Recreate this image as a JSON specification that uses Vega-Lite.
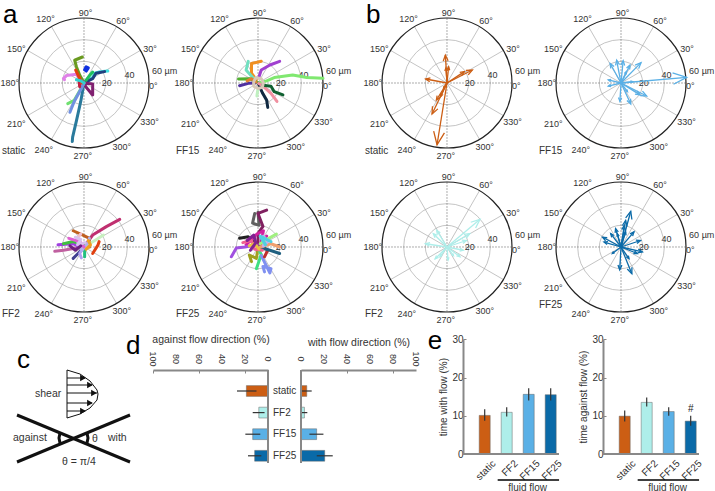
{
"$schema":"https://vega.github.io/schema/vega-lite/v6.json",
"padding":0,"spacing":0,
"resolve":{"scale":{"color":"independent","size":"independent"}},
"config":{"view":{"stroke":null},"font":"Liberation Sans"},
"datasets":{
"rings":[{"r":20,"x":0,"y":0},{"r":40,"x":0,"y":0}],
"outer":[{"r":60,"x":0,"y":0}],
"spokes":[{"x":51.96,"y":30},{"x":30,"y":51.96},{"x":-30,"y":51.96},{"x":-51.96,"y":30},{"x":-51.96,"y":-30},{"x":-30,"y":-51.96},{"x":30,"y":-51.96},{"x":51.96,"y":-30}],
"axes":[{"x":60,"y":0},{"x":0,"y":60},{"x":-60,"y":0},{"x":0,"y":-60}],
"labels":[{"label":"90°","x":1.5,"y":65},{"label":"60°","x":36,"y":57},{"label":"30°","x":61,"y":31},{"label":"0°","x":64,"y":-3},{"label":"330°","x":60.6,"y":-36},{"label":"300°","x":35,"y":-59},{"label":"270°","x":-1,"y":-67},{"label":"240°","x":-37,"y":-61.5},{"label":"210°","x":-62.5,"y":-38},{"label":"180°","x":-68.5,"y":0},{"label":"150°","x":-62.5,"y":31},{"label":"120°","x":-35.4,"y":59},{"label":"20","x":21,"y":0},{"label":"40","x":42,"y":7.4},{"label":"60 µm","x":74.5,"y":11.4}],
"ticks":[{"tick":0,"row":31},{"tick":20,"row":31},{"tick":40,"row":31},{"tick":60,"row":31},{"tick":80,"row":31},{"tick":100,"row":31}],
"ta1":[
{"t":1,"x":0,"y":0},{"t":1,"x":-3,"y":-17},{"t":1,"x":-7,"y":-35},{"t":1,"x":-10.5,"y":-50},{"t":1,"x":-10.8,"y":-54},
{"t":2,"x":-1.5,"y":24},{"t":2,"x":-8.6,"y":21},{"t":2,"x":-7,"y":15},{"t":2,"x":-4,"y":7.4},{"t":2,"x":0,"y":0},
{"t":3,"x":0.6,"y":12},{"t":3,"x":2,"y":15},{"t":3,"x":4,"y":14},{"t":3,"x":2,"y":11},{"t":3,"x":0.6,"y":12.5},
{"t":4,"x":22,"y":11},{"t":4,"x":15,"y":10.5},{"t":4,"x":10,"y":9},{"t":4,"x":8,"y":5},{"t":4,"x":0,"y":0},
{"t":5,"x":19,"y":10.5},{"t":5,"x":11,"y":9},{"t":5,"x":8,"y":4},{"t":5,"x":0,"y":0},
{"t":6,"x":8,"y":10},{"t":6,"x":6,"y":8},{"t":6,"x":3,"y":4},{"t":6,"x":0,"y":0},
{"t":7,"x":-18,"y":3},{"t":7,"x":-19,"y":4},{"t":7,"x":-16,"y":7},{"t":7,"x":-7,"y":8},{"t":7,"x":-4,"y":3},{"t":7,"x":0,"y":0},
{"t":8,"x":0,"y":0},{"t":8,"x":2,"y":-4},{"t":8,"x":8,"y":-11},{"t":8,"x":8,"y":-1},{"t":8,"x":0,"y":0},
{"t":9,"x":-15,"y":-19},{"t":9,"x":-9,"y":-16},{"t":9,"x":-1,"y":-2},{"t":9,"x":0,"y":0},
{"t":10,"x":-13,"y":-27},{"t":10,"x":-9,"y":-17},{"t":10,"x":-2.5,"y":-5},{"t":10,"x":0,"y":0},
{"t":11,"x":-4,"y":-3.4},{"t":11,"x":-4.6,"y":3},{"t":11,"x":-1,"y":1},
{"t":12,"x":-7.7,"y":12},{"t":12,"x":-2,"y":0},
{"t":13,"x":-7,"y":3},{"t":13,"x":-3,"y":2},{"t":13,"x":0,"y":0}],
"ta2":[
{"t":1,"x":60,"y":4.3},{"t":1,"x":45,"y":5},{"t":1,"x":32,"y":7.4},{"t":1,"x":15,"y":5},{"t":1,"x":8,"y":2},{"t":1,"x":0,"y":0},
{"t":2,"x":9,"y":-22.5},{"t":2,"x":8,"y":-16},{"t":2,"x":4,"y":-9},{"t":2,"x":0,"y":0},
{"t":3,"x":17.5,"y":-17},{"t":3,"x":12,"y":-9.5},{"t":3,"x":4.6,"y":-2.8},{"t":3,"x":0,"y":0},
{"t":4,"x":23,"y":-11},{"t":4,"x":15,"y":-8},{"t":4,"x":12,"y":-3},{"t":4,"x":4.6,"y":-2},
{"t":5,"x":20,"y":20},{"t":5,"x":11,"y":16.6},{"t":5,"x":3,"y":12},{"t":5,"x":1,"y":6},
{"t":6,"x":3,"y":20},{"t":6,"x":-6,"y":18},{"t":6,"x":-6,"y":9},{"t":6,"x":-1.5,"y":3},
{"t":7,"x":-9,"y":20},{"t":7,"x":-11,"y":12},{"t":7,"x":-3,"y":3},
{"t":8,"x":-18,"y":3.7},{"t":8,"x":-8,"y":4},{"t":8,"x":-1.5,"y":1},
{"t":9,"x":-17,"y":-2.5},{"t":9,"x":-9,"y":-0.3},{"t":9,"x":-3,"y":0},
{"t":10,"x":-10,"y":2},{"t":10,"x":-6,"y":4},{"t":10,"x":-2,"y":1},
{"t":11,"x":-1,"y":-12},{"t":11,"x":0,"y":-5},
{"t":12,"x":5,"y":0},{"t":12,"x":3,"y":4},{"t":12,"x":-2,"y":5},{"t":12,"x":-4,"y":1},{"t":12,"x":-4,"y":-3},{"t":12,"x":0,"y":-5},{"t":12,"x":4,"y":-4},{"t":12,"x":5,"y":0}],
"ta3":[
{"t":1,"x":33,"y":25.5},{"t":1,"x":20.6,"y":18.8},{"t":1,"x":8,"y":11},{"t":1,"x":0,"y":0},
{"t":2,"x":-10,"y":15},{"t":2,"x":-1,"y":11},{"t":2,"x":5,"y":8},{"t":2,"x":5,"y":0},
{"t":3,"x":18,"y":11},{"t":3,"x":10,"y":6},{"t":3,"x":0,"y":0},
{"t":4,"x":-27,"y":-4},{"t":4,"x":-19,"y":-3},{"t":4,"x":-7,"y":-1},{"t":4,"x":0,"y":0},
{"t":5,"x":-24,"y":2},{"t":5,"x":-10,"y":3},{"t":5,"x":-4,"y":0},
{"t":6,"x":-10,"y":-10.5},{"t":6,"x":-5.5,"y":-6},{"t":6,"x":-2.5,"y":-3},{"t":6,"x":0,"y":0},
{"t":7,"x":-2.5,"y":-10},{"t":7,"x":-4,"y":-6},{"t":7,"x":0,"y":0},
{"t":8,"x":0.6,"y":-9},{"t":8,"x":0.6,"y":-3},
{"t":9,"x":8,"y":-6},{"t":9,"x":13,"y":2},{"t":9,"x":14,"y":5},
{"t":10,"x":-19,"y":3},{"t":10,"x":-10,"y":5},{"t":10,"x":0,"y":2},
{"t":11,"x":-3,"y":12},{"t":11,"x":-7,"y":7},{"t":11,"x":-2,"y":3},
{"t":12,"x":-6,"y":5},{"t":12,"x":-2,"y":-3},{"t":12,"x":3,"y":3},{"t":12,"x":5,"y":8},
{"t":13,"x":-14,"y":8},{"t":13,"x":-4,"y":5},{"t":13,"x":0,"y":0},
{"t":14,"x":4,"y":6},{"t":14,"x":6,"y":2},{"t":14,"x":2,"y":-2},
{"t":15,"x":-8,"y":9},{"t":15,"x":-3,"y":7},{"t":15,"x":-6,"y":2},{"t":15,"x":1,"y":4},
{"t":16,"x":-13,"y":1},{"t":16,"x":-8,"y":-3},{"t":16,"x":-3,"y":1}],
"ta4":[
{"t":1,"x":-3,"y":31},{"t":1,"x":-5,"y":22},{"t":1,"x":1,"y":20},{"t":1,"x":0,"y":32},
{"t":2,"x":8,"y":34},{"t":2,"x":0,"y":31},{"t":2,"x":4.6,"y":19},{"t":2,"x":0,"y":12.6},{"t":2,"x":0,"y":0},
{"t":3,"x":-17,"y":8},{"t":3,"x":-9,"y":9.5},{"t":3,"x":0,"y":0},
{"t":4,"x":-11,"y":2},{"t":4,"x":-1,"y":12},{"t":4,"x":5,"y":15},{"t":4,"x":3,"y":5},{"t":4,"x":8,"y":10},{"t":4,"x":0,"y":0},
{"t":5,"x":-24.6,"y":-9},{"t":5,"x":-20,"y":-1},{"t":5,"x":-12,"y":0},{"t":5,"x":-1.5,"y":2},
{"t":6,"x":-6,"y":-13.5},{"t":6,"x":-8,"y":-7.4},{"t":6,"x":-1.5,"y":-10.5},{"t":6,"x":0,"y":-1},
{"t":7,"x":-1.5,"y":-20},{"t":7,"x":3,"y":-7},{"t":7,"x":0,"y":-1.2},
{"t":8,"x":6,"y":-23},{"t":8,"x":4.6,"y":-18},{"t":8,"x":12,"y":-20},{"t":8,"x":11,"y":-24},{"t":8,"x":3,"y":-8},
{"t":9,"x":6,"y":-9},{"t":9,"x":9,"y":-3},{"t":9,"x":3,"y":1},
{"t":10,"x":20,"y":-6},{"t":10,"x":11,"y":-3},{"t":10,"x":1,"y":0},
{"t":11,"x":17,"y":12},{"t":11,"x":10,"y":8},{"t":11,"x":2,"y":3},
{"t":12,"x":20,"y":0},{"t":12,"x":12,"y":3},{"t":12,"x":2,"y":0},
{"t":13,"x":-14,"y":4},{"t":13,"x":-6,"y":6},{"t":13,"x":-3,"y":-2},{"t":13,"x":4,"y":-3},
{"t":14,"x":-8,"y":1},{"t":14,"x":-3,"y":3},{"t":14,"x":1,"y":-2},
{"t":15,"x":5,"y":10},{"t":15,"x":9,"y":5},{"t":15,"x":5,"y":1},
{"t":16,"x":-10,"y":6},{"t":16,"x":-4,"y":11},{"t":16,"x":-2,"y":4},{"t":16,"x":-7,"y":-3},
{"t":17,"x":12,"y":5},{"t":17,"x":6,"y":8},{"t":17,"x":2,"y":10},{"t":17,"x":7,"y":2}],
"b1":[{"x":-9.2,"y":-57,"len":57.7,"rot":189},{"x":-13.8,"y":-28.6,"len":31.8,"rot":206},{"x":-9.8,"y":-15.7,"len":18.5,"rot":212},{"x":-6,"y":-12.6,"len":14,"rot":205.5},{"x":23.4,"y":12,"len":26.3,"rot":62.9},{"x":16,"y":10.5,"len":19.1,"rot":56.7},{"x":-1.5,"y":25.8,"len":25.8,"rot":-3.3},{"x":1.5,"y":15,"len":15,"rot":5.7},{"x":-19.7,"y":3.7,"len":20,"rot":-79.4},{"x":-1,"y":14,"len":14,"rot":-4},{"x":-3,"y":-4,"len":5,"rot":217}],
"b2":[{"x":60.6,"y":5.2,"len":60.8,"rot":85},{"x":23.7,"y":-12,"len":26.6,"rot":116.9},{"x":17.5,"y":-11,"len":20.7,"rot":122},{"x":9,"y":-19.4,"len":21.4,"rot":155},{"x":-1,"y":-17,"len":17,"rot":183},{"x":18.5,"y":18.8,"len":26.4,"rot":44.5},{"x":8.3,"y":16.6,"len":18.6,"rot":26.6},{"x":2,"y":20.6,"len":20.7,"rot":5.5},{"x":-4,"y":21,"len":21.4,"rot":-10.8},{"x":-10,"y":18,"len":20.6,"rot":-29},{"x":-11.7,"y":2.8,"len":12,"rot":-76.5},{"x":-11.7,"y":-2.8,"len":12,"rot":-103.5},{"x":11,"y":1.2,"len":11,"rot":83.8},{"x":5,"y":10.5,"len":11.6,"rot":25.5},{"x":6,"y":-8,"len":10,"rot":143}],
"b3":[{"x":30.5,"y":25.5,"len":39.8,"rot":50},{"x":21,"y":12.3,"len":24.3,"rot":59.6},{"x":18,"y":6,"len":19,"rot":71.6},{"x":15,"y":-3,"len":15.3,"rot":101},{"x":12,"y":-9,"len":15,"rot":127},{"x":-9.5,"y":15.4,"len":18,"rot":-31.7},{"x":-12.6,"y":12.3,"len":17.6,"rot":-45.7},{"x":-20,"y":3,"len":20,"rot":-81.5},{"x":-11,"y":-11,"len":15.6,"rot":225},{"x":-6.5,"y":-9,"len":11,"rot":216},{"x":1,"y":-12,"len":12,"rot":175},{"x":6,"y":-8,"len":10,"rot":143}],
"b4":[{"x":9,"y":33,"len":34,"rot":15},{"x":4.3,"y":24.6,"len":25,"rot":10},{"x":12,"y":14,"len":18.4,"rot":40.6},{"x":18,"y":6,"len":19,"rot":71.6},{"x":19.7,"y":-4.6,"len":20.2,"rot":103},{"x":15,"y":-6,"len":16,"rot":112},{"x":10,"y":-24.6,"len":26.6,"rot":158},{"x":-1.2,"y":-21,"len":21,"rot":183},{"x":-17,"y":9,"len":19.2,"rot":-62},{"x":-15.7,"y":4.6,"len":16.4,"rot":-73.7},{"x":-5,"y":17,"len":17.7,"rot":-16.4},{"x":-9.5,"y":12.3,"len":15.5,"rot":-37.7},{"x":4.3,"y":14,"len":14.6,"rot":17},{"x":-3.4,"y":12.3,"len":12.8,"rot":-15.5},{"x":7.4,"y":-10.8,"len":13,"rot":145.6},{"x":-8,"y":-6,"len":10,"rot":233},{"x":3,"y":20,"len":20.2,"rot":8.5}],
"dleft":[{"cat":"static","v":18.8,"lo":10,"hi":27},{"cat":"FF2","v":8,"lo":3,"hi":13.3},{"cat":"FF15","v":13.3,"lo":6.7,"hi":19.7},{"cat":"FF25","v":11.6,"lo":5.8,"hi":17.4}],
"dright":[{"cat":"static","v":5,"lo":0,"hi":9.3},{"cat":"FF2","v":3,"lo":0,"hi":5.5},{"cat":"FF15","v":13.6,"lo":7.3,"hi":19.5},{"cat":"FF25","v":20.6,"lo":13.7,"hi":27.6}],
"zero":[{"top":42,"bottom":135,"z":0}],
"e1":[{"cat":"static","v":10.1,"lo":8.7,"hi":11.7},{"cat":"FF2","v":10.9,"lo":9.8,"hi":12.2},{"cat":"FF15","v":15.6,"lo":14,"hi":17.2},{"cat":"FF25","v":15.5,"lo":14,"hi":17.2}],
"e2":[{"cat":"static","v":9.9,"lo":8.5,"hi":11.4},{"cat":"FF2","v":13.5,"lo":12.4,"hi":14.8},{"cat":"FF15","v":11.1,"lo":10,"hi":12.2},{"cat":"FF25","v":8.6,"lo":7.4,"hi":10}],
"flow":[{"start":1.09,"end":3.88,"v":-6.8}],
"flowtext":[{"label":"fluid flow","pos":2.45,"v":-8.8}]
},
"vconcat":[
{"spacing":0,"bounds":"flush","resolve":{"scale":{"color":"independent","size":"independent"}},"hconcat":[
{"width":171,"height":165,
"encoding":{"x":{"field":"x","type":"quantitative","axis":null,"scale":{"domain":[-77.54,80.31],"nice":false,"zero":false}},"y":{"field":"y","type":"quantitative","axis":null,"scale":{"domain":[-75.69,76.62],"nice":false,"zero":false}}},
"layer":[
{"data":{"name":"rings"},"mark":{"type":"point","filled":false,"opacity":1,"stroke":"#aaa","strokeWidth":0.7},"encoding":{"size":{"field":"r","type":"quantitative","legend":null,"scale":{"type":"pow","exponent":2,"domain":[0,60],"range":[0,16900]}}}},
{"data":{"name":"spokes"},"mark":{"type":"rule","stroke":"#aaa","strokeWidth":0.7},"encoding":{"x2":{"datum":0},"y2":{"datum":0}}},
{"data":{"name":"axes"},"mark":{"type":"rule","stroke":"#888","strokeWidth":0.7,"strokeDash":[2,1]},"encoding":{"x2":{"datum":0},"y2":{"datum":0}}},
{"data":{"name":"outer"},"mark":{"type":"point","filled":false,"opacity":1,"stroke":"#222","strokeWidth":1.2},"encoding":{"size":{"field":"r","type":"quantitative","legend":null,"scale":{"type":"pow","exponent":2,"domain":[0,60],"range":[0,16900]}}}},
{"data":{"name":"labels"},"mark":{"type":"text","fontSize":9,"color":"#333"},"encoding":{"text":{"field":"label"}}},
{"data":{"values":[{"label":"static","x":-75.7,"y":-62.8}]},"mark":{"type":"text","fontSize":10,"color":"#333","align":"left"},"encoding":{"text":{"field":"label"}}},
{"data":{"values":[{"label":"a","x":-74.8,"y":55.4}]},"mark":{"type":"text","fontSize":26,"color":"#000","align":"left","baseline":"alphabetic"},"encoding":{"text":{"field":"label"}}},
{"data":{"name":"ta1"},"mark":{"type":"line","strokeWidth":3,"strokeCap":"round","strokeJoin":"round"},"encoding":{"order":{"value":null},"color":{"field":"t","type":"nominal","legend":null,"scale":{"domain":[1,2,3,4,5,6,7,8,9,10,11,12,13],"range":["#2a7a9c","#6a9a20","#1030e0","#40e0e0","#204080","#20c060","#e080e8","#802070","#70e070","#7090e0","#c02040","#e04010","#30d0d0"]}}}}
]},
{"width":174,"height":165,
"encoding":{"x":{"field":"x","type":"quantitative","axis":null,"scale":{"domain":[-80.31,80.31],"nice":false,"zero":false}},"y":{"field":"y","type":"quantitative","axis":null,"scale":{"domain":[-75.69,76.62],"nice":false,"zero":false}}},
"layer":[
{"data":{"name":"rings"},"mark":{"type":"point","filled":false,"opacity":1,"stroke":"#aaa","strokeWidth":0.7},"encoding":{"size":{"field":"r","type":"quantitative","legend":null,"scale":{"type":"pow","exponent":2,"domain":[0,60],"range":[0,16900]}}}},
{"data":{"name":"spokes"},"mark":{"type":"rule","stroke":"#aaa","strokeWidth":0.7},"encoding":{"x2":{"datum":0},"y2":{"datum":0}}},
{"data":{"name":"axes"},"mark":{"type":"rule","stroke":"#888","strokeWidth":0.7,"strokeDash":[2,1]},"encoding":{"x2":{"datum":0},"y2":{"datum":0}}},
{"data":{"name":"outer"},"mark":{"type":"point","filled":false,"opacity":1,"stroke":"#222","strokeWidth":1.2},"encoding":{"size":{"field":"r","type":"quantitative","legend":null,"scale":{"type":"pow","exponent":2,"domain":[0,60],"range":[0,16900]}}}},
{"data":{"name":"labels"},"mark":{"type":"text","fontSize":9,"color":"#333"},"encoding":{"text":{"field":"label"}}},
{"data":{"values":[{"label":"FF15","x":-75.7,"y":-62.8}]},"mark":{"type":"text","fontSize":10,"color":"#333","align":"left"},"encoding":{"text":{"field":"label"}}},
{"data":{"name":"ta2"},"mark":{"type":"line","strokeWidth":3,"strokeCap":"round","strokeJoin":"round"},"encoding":{"order":{"value":null},"color":{"field":"t","type":"nominal","legend":null,"scale":{"domain":[1,2,3,4,5,6,7,8,9,10,11,12],"range":["#80e870","#102840","#f090a0","#106030","#a040d0","#f09020","#70e0c0","#50b030","#5030a0","#e08030","#c0f0c0","#d8c8b8"]}}}}
]},
{"width":189,"height":165,"resolve":{"scale":{"size":"independent"}},
"encoding":{"x":{"field":"x","type":"quantitative","axis":null,"scale":{"domain":[-94.15,80.31],"nice":false,"zero":false}},"y":{"field":"y","type":"quantitative","axis":null,"scale":{"domain":[-75.69,76.62],"nice":false,"zero":false}}},
"layer":[
{"data":{"name":"rings"},"mark":{"type":"point","filled":false,"opacity":1,"stroke":"#aaa","strokeWidth":0.7},"encoding":{"size":{"field":"r","type":"quantitative","legend":null,"scale":{"type":"pow","exponent":2,"domain":[0,60],"range":[0,16900]}}}},
{"data":{"name":"spokes"},"mark":{"type":"rule","stroke":"#aaa","strokeWidth":0.7},"encoding":{"x2":{"datum":0},"y2":{"datum":0}}},
{"data":{"name":"axes"},"mark":{"type":"rule","stroke":"#888","strokeWidth":0.7,"strokeDash":[2,1]},"encoding":{"x2":{"datum":0},"y2":{"datum":0}}},
{"data":{"name":"outer"},"mark":{"type":"point","filled":false,"opacity":1,"stroke":"#222","strokeWidth":1.2},"encoding":{"size":{"field":"r","type":"quantitative","legend":null,"scale":{"type":"pow","exponent":2,"domain":[0,60],"range":[0,16900]}}}},
{"data":{"name":"labels"},"mark":{"type":"text","fontSize":9,"color":"#333"},"encoding":{"text":{"field":"label"}}},
{"data":{"values":[{"label":"static","x":-75.7,"y":-62.8}]},"mark":{"type":"text","fontSize":10,"color":"#333","align":"left"},"encoding":{"text":{"field":"label"}}},
{"data":{"values":[{"label":"b","x":-74.8,"y":55.4}]},"mark":{"type":"text","fontSize":26,"color":"#000","align":"left","baseline":"alphabetic"},"encoding":{"text":{"field":"label"}}},
{"data":{"name":"b1"},"mark":{"type":"rule","stroke":"#cc5e14","strokeWidth":1.3},"encoding":{"x2":{"datum":0},"y2":{"datum":0}}},
{"data":{"name":"b1"},"mark":{"type":"point","filled":false,"opacity":1,"stroke":"#cc5e14","strokeWidth":1.3,"shape":"M-0.42,1L0,0L0.42,1"},"encoding":{"angle":{"field":"rot","type":"quantitative","scale":null},"size":{"field":"len","type":"quantitative","legend":null,"scale":{"type":"pow","exponent":2,"domain":[0,60],"range":[0,729]}}}}
]},
{"width":181,"height":165,"resolve":{"scale":{"size":"independent"}},
"encoding":{"x":{"field":"x","type":"quantitative","axis":null,"scale":{"domain":[-80.31,86.77],"nice":false,"zero":false}},"y":{"field":"y","type":"quantitative","axis":null,"scale":{"domain":[-75.69,76.62],"nice":false,"zero":false}}},
"layer":[
{"data":{"name":"rings"},"mark":{"type":"point","filled":false,"opacity":1,"stroke":"#aaa","strokeWidth":0.7},"encoding":{"size":{"field":"r","type":"quantitative","legend":null,"scale":{"type":"pow","exponent":2,"domain":[0,60],"range":[0,16900]}}}},
{"data":{"name":"spokes"},"mark":{"type":"rule","stroke":"#aaa","strokeWidth":0.7},"encoding":{"x2":{"datum":0},"y2":{"datum":0}}},
{"data":{"name":"axes"},"mark":{"type":"rule","stroke":"#888","strokeWidth":0.7,"strokeDash":[2,1]},"encoding":{"x2":{"datum":0},"y2":{"datum":0}}},
{"data":{"name":"outer"},"mark":{"type":"point","filled":false,"opacity":1,"stroke":"#222","strokeWidth":1.2},"encoding":{"size":{"field":"r","type":"quantitative","legend":null,"scale":{"type":"pow","exponent":2,"domain":[0,60],"range":[0,16900]}}}},
{"data":{"name":"labels"},"mark":{"type":"text","fontSize":9,"color":"#333"},"encoding":{"text":{"field":"label"}}},
{"data":{"values":[{"label":"FF15","x":-75.7,"y":-62.8}]},"mark":{"type":"text","fontSize":10,"color":"#333","align":"left"},"encoding":{"text":{"field":"label"}}},
{"data":{"name":"b2"},"mark":{"type":"rule","stroke":"#5ab0e6","strokeWidth":1.3},"encoding":{"x2":{"datum":0},"y2":{"datum":0}}},
{"data":{"name":"b2"},"mark":{"type":"point","filled":false,"opacity":1,"stroke":"#5ab0e6","strokeWidth":1.3,"shape":"M-0.42,1L0,0L0.42,1"},"encoding":{"angle":{"field":"rot","type":"quantitative","scale":null},"size":{"field":"len","type":"quantitative","legend":null,"scale":{"type":"pow","exponent":2,"domain":[0,60],"range":[0,729]}}}}
]}
]},
{"spacing":0,"bounds":"flush","resolve":{"scale":{"color":"independent","size":"independent"}},"hconcat":[
{"width":171,"height":160,
"encoding":{"x":{"field":"x","type":"quantitative","axis":null,"scale":{"domain":[-77.54,80.31],"nice":false,"zero":false}},"y":{"field":"y","type":"quantitative","axis":null,"scale":{"domain":[-72,75.69],"nice":false,"zero":false}}},
"layer":[
{"data":{"name":"rings"},"mark":{"type":"point","filled":false,"opacity":1,"stroke":"#aaa","strokeWidth":0.7},"encoding":{"size":{"field":"r","type":"quantitative","legend":null,"scale":{"type":"pow","exponent":2,"domain":[0,60],"range":[0,16900]}}}},
{"data":{"name":"spokes"},"mark":{"type":"rule","stroke":"#aaa","strokeWidth":0.7},"encoding":{"x2":{"datum":0},"y2":{"datum":0}}},
{"data":{"name":"axes"},"mark":{"type":"rule","stroke":"#888","strokeWidth":0.7,"strokeDash":[2,1]},"encoding":{"x2":{"datum":0},"y2":{"datum":0}}},
{"data":{"name":"outer"},"mark":{"type":"point","filled":false,"opacity":1,"stroke":"#222","strokeWidth":1.2},"encoding":{"size":{"field":"r","type":"quantitative","legend":null,"scale":{"type":"pow","exponent":2,"domain":[0,60],"range":[0,16900]}}}},
{"data":{"name":"labels"},"mark":{"type":"text","fontSize":9,"color":"#333"},"encoding":{"text":{"field":"label"}}},
{"data":{"values":[{"label":"FF2","x":-75.7,"y":-62}]},"mark":{"type":"text","fontSize":10,"color":"#333","align":"left"},"encoding":{"text":{"field":"label"}}},
{"data":{"name":"ta3"},"mark":{"type":"line","strokeWidth":3,"strokeCap":"round","strokeJoin":"round"},"encoding":{"order":{"value":null},"color":{"field":"t","type":"nominal","legend":null,"scale":{"domain":[1,2,3,4,5,6,7,8,9,10,11,12,13,14,15,16],"range":["#c03070","#c06020","#c8f0c0","#c060a0","#a040e0","#404090","#b0a0f0","#20c080","#e04010","#40c040","#f0c0d0","#b0b0f0","#e060d0","#f0a020","#d8c0f0","#702080"]}}}}
]},
{"width":174,"height":160,
"encoding":{"x":{"field":"x","type":"quantitative","axis":null,"scale":{"domain":[-80.31,80.31],"nice":false,"zero":false}},"y":{"field":"y","type":"quantitative","axis":null,"scale":{"domain":[-72,75.69],"nice":false,"zero":false}}},
"layer":[
{"data":{"name":"rings"},"mark":{"type":"point","filled":false,"opacity":1,"stroke":"#aaa","strokeWidth":0.7},"encoding":{"size":{"field":"r","type":"quantitative","legend":null,"scale":{"type":"pow","exponent":2,"domain":[0,60],"range":[0,16900]}}}},
{"data":{"name":"spokes"},"mark":{"type":"rule","stroke":"#aaa","strokeWidth":0.7},"encoding":{"x2":{"datum":0},"y2":{"datum":0}}},
{"data":{"name":"axes"},"mark":{"type":"rule","stroke":"#888","strokeWidth":0.7,"strokeDash":[2,1]},"encoding":{"x2":{"datum":0},"y2":{"datum":0}}},
{"data":{"name":"outer"},"mark":{"type":"point","filled":false,"opacity":1,"stroke":"#222","strokeWidth":1.2},"encoding":{"size":{"field":"r","type":"quantitative","legend":null,"scale":{"type":"pow","exponent":2,"domain":[0,60],"range":[0,16900]}}}},
{"data":{"name":"labels"},"mark":{"type":"text","fontSize":9,"color":"#333"},"encoding":{"text":{"field":"label"}}},
{"data":{"values":[{"label":"FF25","x":-75.7,"y":-62}]},"mark":{"type":"text","fontSize":10,"color":"#333","align":"left"},"encoding":{"text":{"field":"label"}}},
{"data":{"name":"ta4"},"mark":{"type":"line","strokeWidth":3,"strokeCap":"round","strokeJoin":"round"},"encoding":{"order":{"value":null},"color":{"field":"t","type":"nominal","legend":null,"scale":{"domain":[1,2,3,4,5,6,7,8,9,10,11,12,13,14,15,16,17],"range":["#606060","#802060","#202020","#d020a0","#a050e0","#a0a020","#40e080","#8090f0","#c03030","#206080","#a0f080","#f0a070","#f06090","#e8c040","#c0b0f0","#802090","#50d0e0"]}}}}
]},
{"width":189,"height":160,"resolve":{"scale":{"size":"independent"}},
"encoding":{"x":{"field":"x","type":"quantitative","axis":null,"scale":{"domain":[-94.15,80.31],"nice":false,"zero":false}},"y":{"field":"y","type":"quantitative","axis":null,"scale":{"domain":[-72,75.69],"nice":false,"zero":false}}},
"layer":[
{"data":{"name":"rings"},"mark":{"type":"point","filled":false,"opacity":1,"stroke":"#aaa","strokeWidth":0.7},"encoding":{"size":{"field":"r","type":"quantitative","legend":null,"scale":{"type":"pow","exponent":2,"domain":[0,60],"range":[0,16900]}}}},
{"data":{"name":"spokes"},"mark":{"type":"rule","stroke":"#aaa","strokeWidth":0.7},"encoding":{"x2":{"datum":0},"y2":{"datum":0}}},
{"data":{"name":"axes"},"mark":{"type":"rule","stroke":"#888","strokeWidth":0.7,"strokeDash":[2,1]},"encoding":{"x2":{"datum":0},"y2":{"datum":0}}},
{"data":{"name":"outer"},"mark":{"type":"point","filled":false,"opacity":1,"stroke":"#222","strokeWidth":1.2},"encoding":{"size":{"field":"r","type":"quantitative","legend":null,"scale":{"type":"pow","exponent":2,"domain":[0,60],"range":[0,16900]}}}},
{"data":{"name":"labels"},"mark":{"type":"text","fontSize":9,"color":"#333"},"encoding":{"text":{"field":"label"}}},
{"data":{"values":[{"label":"FF2","x":-75.7,"y":-62}]},"mark":{"type":"text","fontSize":10,"color":"#333","align":"left"},"encoding":{"text":{"field":"label"}}},
{"data":{"name":"b3"},"mark":{"type":"rule","stroke":"#aeeeea","strokeWidth":1.3},"encoding":{"x2":{"datum":0},"y2":{"datum":0}}},
{"data":{"name":"b3"},"mark":{"type":"point","filled":false,"opacity":1,"stroke":"#aeeeea","strokeWidth":1.3,"shape":"M-0.42,1L0,0L0.42,1"},"encoding":{"angle":{"field":"rot","type":"quantitative","scale":null},"size":{"field":"len","type":"quantitative","legend":null,"scale":{"type":"pow","exponent":2,"domain":[0,60],"range":[0,729]}}}}
]},
{"width":181,"height":160,"resolve":{"scale":{"size":"independent"}},
"encoding":{"x":{"field":"x","type":"quantitative","axis":null,"scale":{"domain":[-80.31,86.77],"nice":false,"zero":false}},"y":{"field":"y","type":"quantitative","axis":null,"scale":{"domain":[-72,75.69],"nice":false,"zero":false}}},
"layer":[
{"data":{"name":"rings"},"mark":{"type":"point","filled":false,"opacity":1,"stroke":"#aaa","strokeWidth":0.7},"encoding":{"size":{"field":"r","type":"quantitative","legend":null,"scale":{"type":"pow","exponent":2,"domain":[0,60],"range":[0,16900]}}}},
{"data":{"name":"spokes"},"mark":{"type":"rule","stroke":"#aaa","strokeWidth":0.7},"encoding":{"x2":{"datum":0},"y2":{"datum":0}}},
{"data":{"name":"axes"},"mark":{"type":"rule","stroke":"#888","strokeWidth":0.7,"strokeDash":[2,1]},"encoding":{"x2":{"datum":0},"y2":{"datum":0}}},
{"data":{"name":"outer"},"mark":{"type":"point","filled":false,"opacity":1,"stroke":"#222","strokeWidth":1.2},"encoding":{"size":{"field":"r","type":"quantitative","legend":null,"scale":{"type":"pow","exponent":2,"domain":[0,60],"range":[0,16900]}}}},
{"data":{"name":"labels"},"mark":{"type":"text","fontSize":9,"color":"#333"},"encoding":{"text":{"field":"label"}}},
{"data":{"values":[{"label":"FF25","x":-75.7,"y":-53.5}]},"mark":{"type":"text","fontSize":10,"color":"#333","align":"left"},"encoding":{"text":{"field":"label"}}},
{"data":{"name":"b4"},"mark":{"type":"rule","stroke":"#0a6aa8","strokeWidth":1.3},"encoding":{"x2":{"datum":0},"y2":{"datum":0}}},
{"data":{"name":"b4"},"mark":{"type":"point","filled":false,"opacity":1,"stroke":"#0a6aa8","strokeWidth":1.3,"shape":"M-0.42,1L0,0L0.42,1"},"encoding":{"angle":{"field":"rot","type":"quantitative","scale":null},"size":{"field":"len","type":"quantitative","legend":null,"scale":{"type":"pow","exponent":2,"domain":[0,60],"range":[0,729]}}}}
]}
]},
{"spacing":0,"bounds":"flush","resolve":{"scale":{"color":"independent","size":"independent"}},"hconcat":[
{"width":153,"height":163,
"encoding":{"x":{"field":"x","type":"quantitative","axis":null,"scale":{"domain":[0,153],"nice":false,"zero":false}},"y":{"field":"y","type":"quantitative","axis":null,"scale":{"domain":[163,0],"nice":false,"zero":false}}},
"layer":[
{"data":{"values":[{"s":"v","x":67,"y":42},{"s":"v","x":67,"y":90},{"s":"p","x":67,"y":42},{"s":"p","x":80,"y":46},{"s":"p","x":90,"y":53},{"s":"p","x":97,"y":62},{"s":"p","x":98,"y":66},{"s":"p","x":97,"y":72},{"s":"p","x":90,"y":80},{"s":"p","x":80,"y":86},{"s":"p","x":67,"y":90},{"s":"a1","x":67,"y":50},{"s":"a1","x":85,"y":50},{"s":"a2","x":67,"y":57},{"s":"a2","x":92,"y":57},{"s":"a3","x":67,"y":65},{"s":"a3","x":97,"y":65},{"s":"a4","x":67,"y":75},{"s":"a4","x":92,"y":75},{"s":"a5","x":67,"y":83},{"s":"a5","x":85,"y":83}]},"mark":{"type":"line","stroke":"#111","strokeWidth":1},"encoding":{"order":{"value":null},"detail":{"field":"s"}}},
{"data":{"values":[{"x":83,"y":50},{"x":90,"y":57},{"x":94,"y":65},{"x":90,"y":75},{"x":83,"y":83}]},"mark":{"type":"point","shape":"triangle-right","filled":true,"opacity":1,"color":"#111","size":45},"encoding":{}},
{"data":{"values":[{"s":"x1","x":17,"y":87},{"s":"x1","x":130,"y":134},{"s":"x2","x":17,"y":134},{"s":"x2","x":130,"y":87},{"s":"l","x":60,"y":105},{"s":"l","x":59,"y":110},{"s":"l","x":60,"y":115},{"s":"r","x":87,"y":105},{"s":"r","x":88,"y":110},{"s":"r","x":87,"y":115}]},"mark":{"type":"line","stroke":"#111","strokeWidth":3},"encoding":{"order":{"value":null},"detail":{"field":"s"}}},
{"data":{"values":[{"label":"shear","x":35,"y":66},{"label":"against","x":13,"y":110},{"label":"θ","x":92,"y":111},{"label":"with","x":108,"y":110},{"label":"θ = π/4","x":62,"y":134}]},"mark":{"type":"text","fontSize":10.5,"color":"#333","align":"left"},"encoding":{"text":{"field":"label"}}},
{"data":{"values":[{"label":"c","x":17,"y":40},{"label":"d","x":126,"y":26}]},"mark":{"type":"text","fontSize":26,"color":"#000","align":"left","baseline":"alphabetic"},"encoding":{"text":{"field":"label"}}}
]},
{"width":115,"height":163,"resolve":{"scale":{"y":"independent"}},
"layer":[
{"data":{"name":"dleft"},"mark":{"type":"bar","stroke":"#666","strokeWidth":0.5},"encoding":{"x":{"field":"v","type":"quantitative","scale":{"domain":[100,0],"nice":false},"axis":{"orient":"top","offset":-42,"values":[0,20,40,60,80,100],"labels":false,"title":"against flow direction (%)","titleFontSize":10.5,"titleFontWeight":"normal","titleColor":"#333","titlePadding":25,"grid":false,"domainColor":"#888","domainWidth":2,"tickColor":"#888","tickWidth":1,"tickSize":-3}},"y":{"field":"cat","type":"nominal","axis":null,"scale":{"domain":["static","FF2","FF15","FF25"],"range":[52.2,138.6],"paddingInner":0.5,"paddingOuter":0.25}},"color":{"field":"cat","type":"nominal","legend":null,"scale":{"domain":["static","FF2","FF15","FF25"],"range":["#cc5e14","#aeeeea","#5ab0e6","#0a6aa8"]}}}},
{"data":{"name":"dleft"},"mark":{"type":"rule","stroke":"#333","strokeWidth":1.2},"encoding":{"x":{"field":"lo","type":"quantitative","scale":{"domain":[100,0],"nice":false}},"x2":{"field":"hi"},"y":{"field":"cat","type":"nominal","axis":null,"scale":{"domain":["static","FF2","FF15","FF25"],"range":[52.2,138.6],"paddingInner":0.5,"paddingOuter":0.25}}}},
{"data":{"name":"zero"},"mark":{"type":"rule","stroke":"#888","strokeWidth":2},"encoding":{"x":{"field":"z","type":"quantitative","scale":{"domain":[100,0],"nice":false}},"y":{"field":"top","type":"quantitative","axis":null,"scale":{"domain":[163,0],"nice":false,"zero":false}},"y2":{"field":"bottom"}}},
{"data":{"name":"ticks"},"mark":{"type":"text","fontSize":9,"color":"#333","angle":90},"encoding":{"x":{"field":"tick","type":"quantitative","scale":{"domain":[100,0],"nice":false}},"y":{"field":"row","type":"quantitative","axis":null,"scale":{"domain":[163,0],"nice":false,"zero":false}},"text":{"field":"tick"}}},
{"data":{"name":"dleft"},"mark":{"type":"text","fontSize":10,"color":"#333","align":"left","dx":5},"encoding":{"x":{"datum":0,"type":"quantitative","scale":{"domain":[100,0],"nice":false}},"y":{"field":"cat","type":"nominal","axis":null,"scale":{"domain":["static","FF2","FF15","FF25"],"range":[52.2,138.6],"paddingInner":0.5,"paddingOuter":0.25}},"text":{"field":"cat"}}}
]},
{"width":33,"height":1,"data":{"values":[{"a":0}]},"mark":{"type":"point","opacity":0},"encoding":{}},
{"width":115,"height":163,"resolve":{"scale":{"y":"independent"}},
"layer":[
{"data":{"name":"dright"},"mark":{"type":"bar","stroke":"#666","strokeWidth":0.5},"encoding":{"x":{"field":"v","type":"quantitative","scale":{"domain":[0,100],"nice":false},"axis":{"orient":"top","offset":-42,"values":[0,20,40,60,80,100],"labels":false,"title":"with flow direction (%)","titleFontSize":10.5,"titleFontWeight":"normal","titleColor":"#333","titlePadding":22,"grid":false,"domainColor":"#888","domainWidth":2,"tickColor":"#888","tickWidth":1,"tickSize":-3}},"y":{"field":"cat","type":"nominal","axis":null,"scale":{"domain":["static","FF2","FF15","FF25"],"range":[52.2,138.6],"paddingInner":0.5,"paddingOuter":0.25}},"color":{"field":"cat","type":"nominal","legend":null,"scale":{"domain":["static","FF2","FF15","FF25"],"range":["#cc5e14","#aeeeea","#5ab0e6","#0a6aa8"]}}}},
{"data":{"name":"dright"},"mark":{"type":"rule","stroke":"#333","strokeWidth":1.2},"encoding":{"x":{"field":"lo","type":"quantitative","scale":{"domain":[0,100],"nice":false}},"x2":{"field":"hi"},"y":{"field":"cat","type":"nominal","axis":null,"scale":{"domain":["static","FF2","FF15","FF25"],"range":[52.2,138.6],"paddingInner":0.5,"paddingOuter":0.25}}}},
{"data":{"name":"zero"},"mark":{"type":"rule","stroke":"#888","strokeWidth":2},"encoding":{"x":{"field":"z","type":"quantitative","scale":{"domain":[0,100],"nice":false}},"y":{"field":"top","type":"quantitative","axis":null,"scale":{"domain":[163,0],"nice":false,"zero":false}},"y2":{"field":"bottom"}}},
{"data":{"name":"ticks"},"mark":{"type":"text","fontSize":9,"color":"#333","angle":90},"encoding":{"x":{"field":"tick","type":"quantitative","scale":{"domain":[0,100],"nice":false}},"y":{"field":"row","type":"quantitative","axis":null,"scale":{"domain":[163,0],"nice":false,"zero":false}},"text":{"field":"tick"}}}
]},
{"width":47,"height":1,"data":{"values":[{"a":0}]},"mark":{"type":"point","opacity":0},"encoding":{}},
{"width":96,"height":163,"resolve":{"scale":{"x":"independent"}},
"layer":[
{"data":{"name":"e1"},"mark":{"type":"bar","stroke":"#666","strokeWidth":0.5},"encoding":{"x":{"field":"cat","type":"nominal","title":null,"scale":{"domain":["static","FF2","FF15","FF25"],"range":[10.7,98.7],"paddingInner":0.5,"paddingOuter":0.25},"axis":{"offset":-37,"labelAngle":-45,"labelFontSize":10,"labelColor":"#333","labelOffset":6,"labelPadding":4,"domain":false,"ticks":false}},"y":{"field":"v","type":"quantitative","scale":{"domain":[0,30],"range":[126,11.3],"nice":false},"axis":{"values":[0,10,20,30],"title":"time with flow (%)","titleFontSize":10,"titleFontWeight":"normal","titleColor":"#333","titlePadding":3,"labelFontSize":10,"labelColor":"#333","labelPadding":3,"grid":false,"domainColor":"#888","domainWidth":2,"tickColor":"#888","tickWidth":1,"tickSize":-3}},"color":{"field":"cat","type":"nominal","legend":null,"scale":{"domain":["static","FF2","FF15","FF25"],"range":["#cc5e14","#aeeeea","#5ab0e6","#0a6aa8"]}}}},
{"data":{"name":"e1"},"mark":{"type":"rule","stroke":"#333","strokeWidth":1.2},"encoding":{"x":{"field":"cat","type":"nominal","axis":null,"scale":{"domain":["static","FF2","FF15","FF25"],"range":[10.7,98.7],"paddingInner":0.5,"paddingOuter":0.25}},"y":{"field":"lo","type":"quantitative","scale":{"domain":[0,30],"range":[126,11.3],"nice":false}},"y2":{"field":"hi"}}},
{"data":{"name":"e1"},"mark":{"type":"rule","stroke":"#888","strokeWidth":1.5},"encoding":{"y":{"datum":0,"type":"quantitative","scale":{"domain":[0,30],"range":[126,11.3],"nice":false}}}},
{"data":{"name":"flow"},"mark":{"type":"rule","stroke":"#000","strokeWidth":1.5},"encoding":{"x":{"field":"start","type":"quantitative","axis":null,"scale":{"domain":[-0.486,3.877],"nice":false,"zero":false}},"x2":{"field":"end"},"y":{"field":"v","type":"quantitative","scale":{"domain":[0,30],"range":[126,11.3],"nice":false}}}},
{"data":{"name":"flowtext"},"mark":{"type":"text","fontSize":10,"color":"#333"},"encoding":{"x":{"field":"pos","type":"quantitative","axis":null,"scale":{"domain":[-0.486,3.877],"nice":false,"zero":false}},"y":{"field":"v","type":"quantitative","scale":{"domain":[0,30],"range":[126,11.3],"nice":false}},"text":{"field":"label"}}},
{"data":{"values":[{"label":"e","pos":-2.09,"v":27.5}]},"mark":{"type":"text","fontSize":26,"color":"#000","align":"left","baseline":"alphabetic"},"encoding":{"x":{"field":"pos","type":"quantitative","axis":null,"scale":{"domain":[-0.486,3.877],"nice":false,"zero":false}},"y":{"field":"v","type":"quantitative","scale":{"domain":[0,30],"range":[126,11.3],"nice":false}},"text":{"field":"label"}}}
]},
{"width":44,"height":1,"data":{"values":[{"a":0}]},"mark":{"type":"point","opacity":0},"encoding":{}},
{"width":96,"height":163,"resolve":{"scale":{"x":"independent"}},
"layer":[
{"data":{"name":"e2"},"mark":{"type":"bar","stroke":"#666","strokeWidth":0.5},"encoding":{"x":{"field":"cat","type":"nominal","title":null,"scale":{"domain":["static","FF2","FF15","FF25"],"range":[10.7,98.7],"paddingInner":0.5,"paddingOuter":0.25},"axis":{"offset":-37,"labelAngle":-45,"labelFontSize":10,"labelColor":"#333","labelOffset":6,"labelPadding":4,"domain":false,"ticks":false}},"y":{"field":"v","type":"quantitative","scale":{"domain":[0,30],"range":[126,11.3],"nice":false},"axis":{"values":[0,10,20,30],"title":"time against flow (%)","titleFontSize":10,"titleFontWeight":"normal","titleColor":"#333","titlePadding":3,"labelFontSize":10,"labelColor":"#333","labelPadding":3,"grid":false,"domainColor":"#888","domainWidth":2,"tickColor":"#888","tickWidth":1,"tickSize":-3}},"color":{"field":"cat","type":"nominal","legend":null,"scale":{"domain":["static","FF2","FF15","FF25"],"range":["#cc5e14","#aeeeea","#5ab0e6","#0a6aa8"]}}}},
{"data":{"name":"e2"},"mark":{"type":"rule","stroke":"#333","strokeWidth":1.2},"encoding":{"x":{"field":"cat","type":"nominal","axis":null,"scale":{"domain":["static","FF2","FF15","FF25"],"range":[10.7,98.7],"paddingInner":0.5,"paddingOuter":0.25}},"y":{"field":"lo","type":"quantitative","scale":{"domain":[0,30],"range":[126,11.3],"nice":false}},"y2":{"field":"hi"}}},
{"data":{"name":"e2"},"mark":{"type":"rule","stroke":"#888","strokeWidth":1.5},"encoding":{"y":{"datum":0,"type":"quantitative","scale":{"domain":[0,30],"range":[126,11.3],"nice":false}}}},
{"data":{"values":[{"cat":"FF25","v":11.7,"label":"#"}]},"mark":{"type":"text","fontSize":10,"color":"#222"},"encoding":{"x":{"field":"cat","type":"nominal","axis":null,"scale":{"domain":["static","FF2","FF15","FF25"],"range":[10.7,98.7],"paddingInner":0.5,"paddingOuter":0.25}},"y":{"field":"v","type":"quantitative","scale":{"domain":[0,30],"range":[126,11.3],"nice":false}},"text":{"field":"label"}}},
{"data":{"name":"flow"},"mark":{"type":"rule","stroke":"#000","strokeWidth":1.5},"encoding":{"x":{"field":"start","type":"quantitative","axis":null,"scale":{"domain":[-0.486,3.877],"nice":false,"zero":false}},"x2":{"field":"end"},"y":{"field":"v","type":"quantitative","scale":{"domain":[0,30],"range":[126,11.3],"nice":false}}}},
{"data":{"name":"flowtext"},"mark":{"type":"text","fontSize":10,"color":"#333"},"encoding":{"x":{"field":"pos","type":"quantitative","axis":null,"scale":{"domain":[-0.486,3.877],"nice":false,"zero":false}},"y":{"field":"v","type":"quantitative","scale":{"domain":[0,30],"range":[126,11.3],"nice":false}},"text":{"field":"label"}}}
]}
]}
]}
